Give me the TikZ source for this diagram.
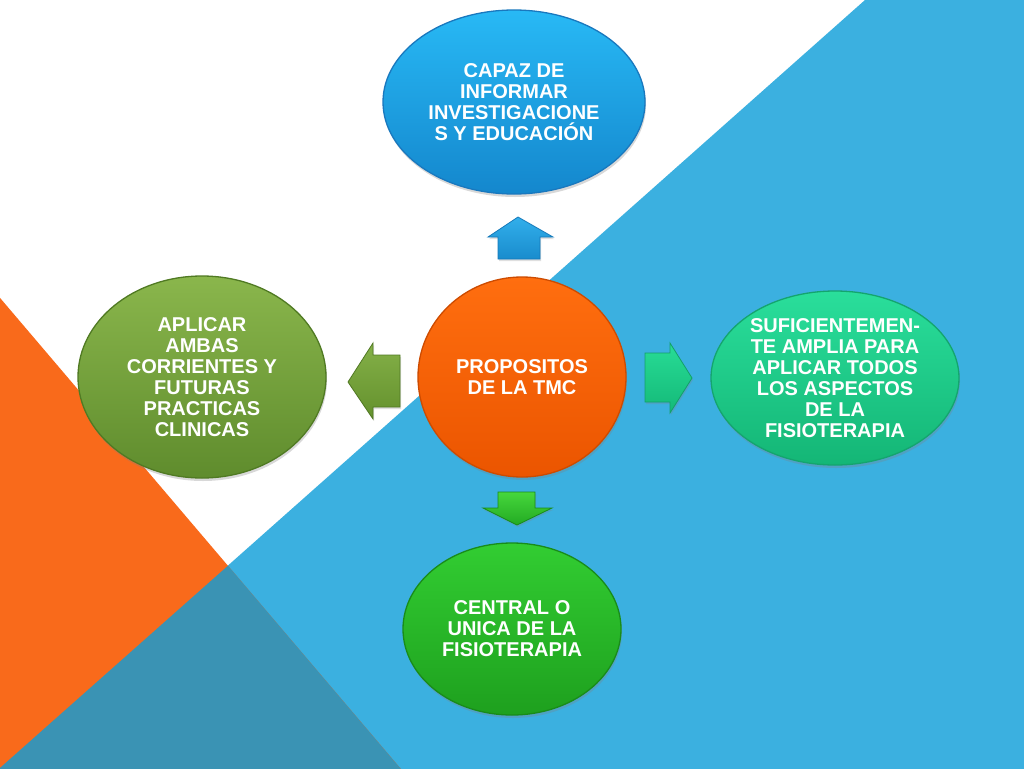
\documentclass[tikz,border=0pt]{standalone}
\usepackage{fontspec}
\setmainfont{Liberation Sans}
\usetikzlibrary{shapes.geometric,shadows}
\definecolor{bgblue}{HTML}{3BB0E0}
\definecolor{bgorange}{HTML}{F96A1B}
\definecolor{bgover}{HTML}{3A93B4}
\begin{document}
\begin{tikzpicture}[x=1pt,y=-1pt,
  bubble/.style={ellipse, inner sep=0pt, text=white,
    font=\bfseries\fontsize{20}{21}\selectfont, align=center, line width=1.3pt,
    drop shadow={shadow xshift=1pt, shadow yshift=-3pt, opacity=0.3}},
  blockarrow/.style={line width=0.8pt, line join=miter,
    drop shadow={shadow xshift=1pt, shadow yshift=-2pt, opacity=0.25}}]
\useasboundingbox (0,0) rectangle (1024,768);
% background
\begin{scope}
\clip (0,0) rectangle (1024,768);
\fill[white] (-5,-5) rectangle (1030,775);
\fill[bgblue] (865,0) -- (1030,0) -- (1030,775) -- (-8,775) -- cycle;
\fill[bgorange] (-5,292) -- (406,775) -- (-5,775) -- cycle;
\fill[bgover] (228,565.7) -- (406,775) -- (-8,775) -- cycle;
\end{scope}
% block arrows
\draw[blockarrow, draw={rgb,255:red,20;green,120;blue,185},
  top color={rgb,255:red,50;green,175;blue,235}, bottom color={rgb,255:red,25;green,140;blue,205}]
  (518,217) -- (553,237) -- (540,237) -- (540,259) -- (498,259) -- (498,237) -- (488,237) -- cycle;
\draw[blockarrow, draw={rgb,255:red,80;green,120;blue,35},
  top color={rgb,255:red,132;green,176;blue,72}, bottom color={rgb,255:red,100;green,145;blue,45}]
  (348,382) -- (373,343) -- (373,355) -- (400,355) -- (400,407) -- (373,407) -- (373,419) -- cycle;
\draw[blockarrow, draw={rgb,255:red,20;green,160;blue,105},
  top color={rgb,255:red,40;green,220;blue,150}, bottom color={rgb,255:red,20;green,185;blue,120}]
  (645,353) -- (670,353) -- (670,343) -- (692,378) -- (670,413) -- (670,402) -- (645,402) -- cycle;
\draw[blockarrow, draw={rgb,255:red,25;green,140;blue,25},
  top color={rgb,255:red,70;green,215;blue,60}, bottom color={rgb,255:red,35;green,170;blue,35}]
  (498,492) -- (535,492) -- (535,508) -- (552,508) -- (517,525) -- (483,508) -- (498,508) -- cycle;
% ellipses
\node[bubble, minimum width=262pt, minimum height=184pt,
  top color={rgb,255:red,40;green,185;blue,245}, bottom color={rgb,255:red,20;green,135;blue,205},
  draw={rgb,255:red,25;green,120;blue,190}] (top) at (514,102)
  {CAPAZ DE\\INFORMAR\\INVESTIGACIONE\\S Y EDUCACIÓN};
\node[bubble, minimum width=208pt, minimum height=200pt,
  top color={rgb,255:red,255;green,110;blue,15}, bottom color={rgb,255:red,235;green,85;blue,0},
  draw={rgb,255:red,205;green,75;blue,0}] (center) at (522,377)
  {PROPOSITOS\\DE LA TMC};
\node[bubble, minimum width=248pt, minimum height=202pt,
  top color={rgb,255:red,138;green,182;blue,76}, bottom color={rgb,255:red,95;green,140;blue,45},
  draw={rgb,255:red,80;green,122;blue,35}] (left) at (202,377)
  {APLICAR\\AMBAS\\CORRIENTES Y\\FUTURAS\\PRACTICAS\\CLINICAS};
\node[bubble, minimum width=248pt, minimum height=174pt,
  top color={rgb,255:red,42;green,222;blue,155}, bottom color={rgb,255:red,20;green,182;blue,118},
  draw={rgb,255:red,20;green,165;blue,110}] (right) at (835,378)
  {SUFICIENTEMEN-\\TE AMPLIA PARA\\APLICAR TODOS\\LOS ASPECTOS\\DE LA\\FISIOTERAPIA};
\node[bubble, minimum width=218pt, minimum height=172pt,
  top color={rgb,255:red,50;green,205;blue,50}, bottom color={rgb,255:red,30;green,160;blue,30},
  draw={rgb,255:red,25;green,140;blue,25}] (bottom) at (512,629)
  {CENTRAL O\\UNICA DE LA\\FISIOTERAPIA};
\end{tikzpicture}
\end{document}
